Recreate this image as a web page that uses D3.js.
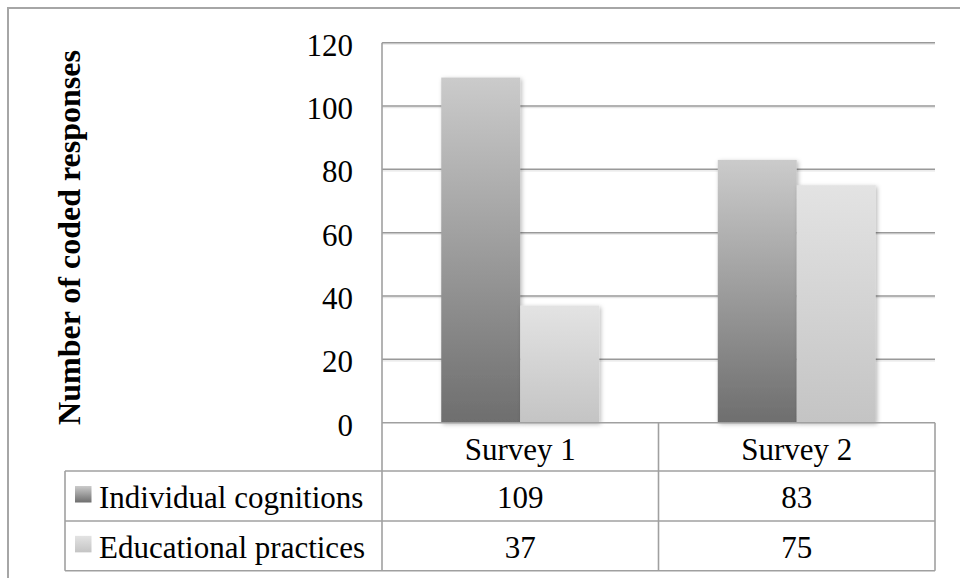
<!DOCTYPE html>
<html>
<head>
<meta charset="utf-8">
<script src="https://cdn.jsdelivr.net/npm/d3@7"></script>
<style>
  html, body { margin: 0; padding: 0; background: #fff; }
  svg { display: block; }
  text { font-family: "Liberation Serif", "Times New Roman", serif; fill: #000; }
</style>
</head>
<body>
<svg id="chart" width="960" height="578"></svg>
<script>
const categories = ["Survey 1", "Survey 2"];
const seriesNames = ["Individual cognitions", "Educational practices"];
const individualCognitions = [109, 83];
const educationalPractices = [37, 75];
const yTicks = [0, 20, 40, 60, 80, 100, 120];
const yTitle = "Number of coded responses";

const seriesValues = [individualCognitions, educationalPractices];

const svg = d3.select("#chart");
const W = 960, H = 578;

const plotL = 382, plotR = 935, plotT = 42.7, plotB = 422.7;
const tableL = 65;
const rowEdges = [422.7, 471, 521, 570.7];
const lineColor = "#a0a0a0";

const defs = svg.append("defs");
const g1 = defs.append("linearGradient").attr("id", "grad0").attr("x1", 0).attr("y1", 0).attr("x2", 0).attr("y2", 1);
g1.append("stop").attr("offset", "0%").attr("stop-color", "#cbcbcb");
g1.append("stop").attr("offset", "100%").attr("stop-color", "#6e6e6e");
const g2 = defs.append("linearGradient").attr("id", "grad1").attr("x1", 0).attr("y1", 0).attr("x2", 0).attr("y2", 1);
g2.append("stop").attr("offset", "0%").attr("stop-color", "#e3e3e3");
g2.append("stop").attr("offset", "100%").attr("stop-color", "#c4c4c4");
const f = defs.append("filter").attr("id", "shadow").attr("x", "-20%").attr("y", "-10%").attr("width", "140%").attr("height", "120%");
f.append("feDropShadow").attr("dx", 1.5).attr("dy", 1.5).attr("stdDeviation", 2.2).attr("flood-color", "#000").attr("flood-opacity", 0.28);

// outer frame
svg.append("rect").attr("x", 8).attr("y", 8).attr("width", 1000).attr("height", 620)
  .attr("fill", "none").attr("stroke", "#a6a6a6").attr("stroke-width", 2);

const y = d3.scaleLinear().domain([0, 120]).range([plotB, plotT]);
const x = d3.scaleBand().domain(categories).range([plotL, plotR]).padding(0);
const xi = d3.scaleBand().domain(seriesNames).range([0, x.bandwidth()]).paddingInner(0).paddingOuter(0.75);

// gridlines
const grid = svg.append("g");
grid.selectAll("line.s").data(yTicks.filter(d => d > 0)).join("line")
  .attr("x1", plotL).attr("x2", plotR)
  .attr("y1", d => y(d) + 1.5).attr("y2", d => y(d) + 1.5)
  .attr("stroke", "#e6e6e6").attr("stroke-width", 1.2);
grid.selectAll("line.g").data(yTicks.filter(d => d > 0)).join("line")
  .attr("x1", plotL).attr("x2", plotR)
  .attr("y1", d => y(d)).attr("y2", d => y(d))
  .attr("stroke", "#999").attr("stroke-width", 1.5);

// bars
seriesNames.forEach((s, si) => {
  svg.append("g").selectAll("rect").data(categories).join("rect")
    .attr("x", c => x(c) + xi(s))
    .attr("width", xi.bandwidth())
    .attr("y", (c, i) => y(seriesValues[si][i]))
    .attr("height", (c, i) => y(0) - y(seriesValues[si][i]))
    .attr("fill", `url(#grad${si})`)
    .attr("filter", "url(#shadow)");
});

// y axis tick labels
svg.append("g").selectAll("text").data(yTicks).join("text")
  .attr("x", 353).attr("y", d => y(d) + 13)
  .attr("text-anchor", "end")
  .attr("font-size", 31)
  .text(d => d);

// y title
svg.append("text")
  .attr("transform", `translate(80, 237.5) rotate(-90)`)
  .attr("text-anchor", "middle")
  .attr("font-size", 32).attr("font-weight", "bold")
  .text(yTitle);

// data table lines
const tg = svg.append("g").attr("stroke", lineColor).attr("stroke-width", 1.6).attr("fill", "none");
// horizontal lines
tg.append("line").attr("x1", plotL).attr("x2", plotR).attr("y1", rowEdges[0]).attr("y2", rowEdges[0]);
[rowEdges[1], rowEdges[2], rowEdges[3]].forEach(yy => {
  tg.append("line").attr("x1", tableL).attr("x2", plotR).attr("y1", yy).attr("y2", yy);
});
// vertical lines
tg.append("line").attr("x1", plotL).attr("x2", plotL).attr("y1", plotT).attr("y2", rowEdges[3]);
tg.append("line").attr("x1", tableL).attr("x2", tableL).attr("y1", rowEdges[1]).attr("y2", rowEdges[3]);
tg.append("line").attr("x1", plotR).attr("x2", plotR).attr("y1", rowEdges[0]).attr("y2", rowEdges[3]);
tg.append("line").attr("x1", plotL + x.bandwidth()).attr("x2", plotL + x.bandwidth()).attr("y1", rowEdges[0]).attr("y2", rowEdges[3]);
// plot top-left corner tick
tg.append("line").attr("x1", plotL).attr("x2", plotL + 1).attr("y1", plotT).attr("y2", plotT);

// header labels
svg.append("g").selectAll("text").data(categories).join("text")
  .attr("x", c => x(c) + x.bandwidth() / 2)
  .attr("y", 460)
  .attr("text-anchor", "middle").attr("font-size", 31)
  .text(c => c);

// rows
const rowBase = [507.5, 557.5];
seriesNames.forEach((s, si) => {
  const cy = (rowEdges[si + 1] + rowEdges[si + 2]) / 2;
  svg.append("rect").attr("x", 75).attr("y", cy - 10).attr("width", 16.5).attr("height", 16.5)
    .attr("fill", `url(#grad${si})`);
  svg.append("text").attr("x", 99).attr("y", rowBase[si]).attr("font-size", 31).text(s);
  svg.append("g").selectAll("text").data(categories).join("text")
    .attr("x", c => x(c) + x.bandwidth() / 2)
    .attr("y", rowBase[si])
    .attr("text-anchor", "middle").attr("font-size", 31)
    .text((c, i) => seriesValues[si][i]);
});
</script>
</body>
</html>
